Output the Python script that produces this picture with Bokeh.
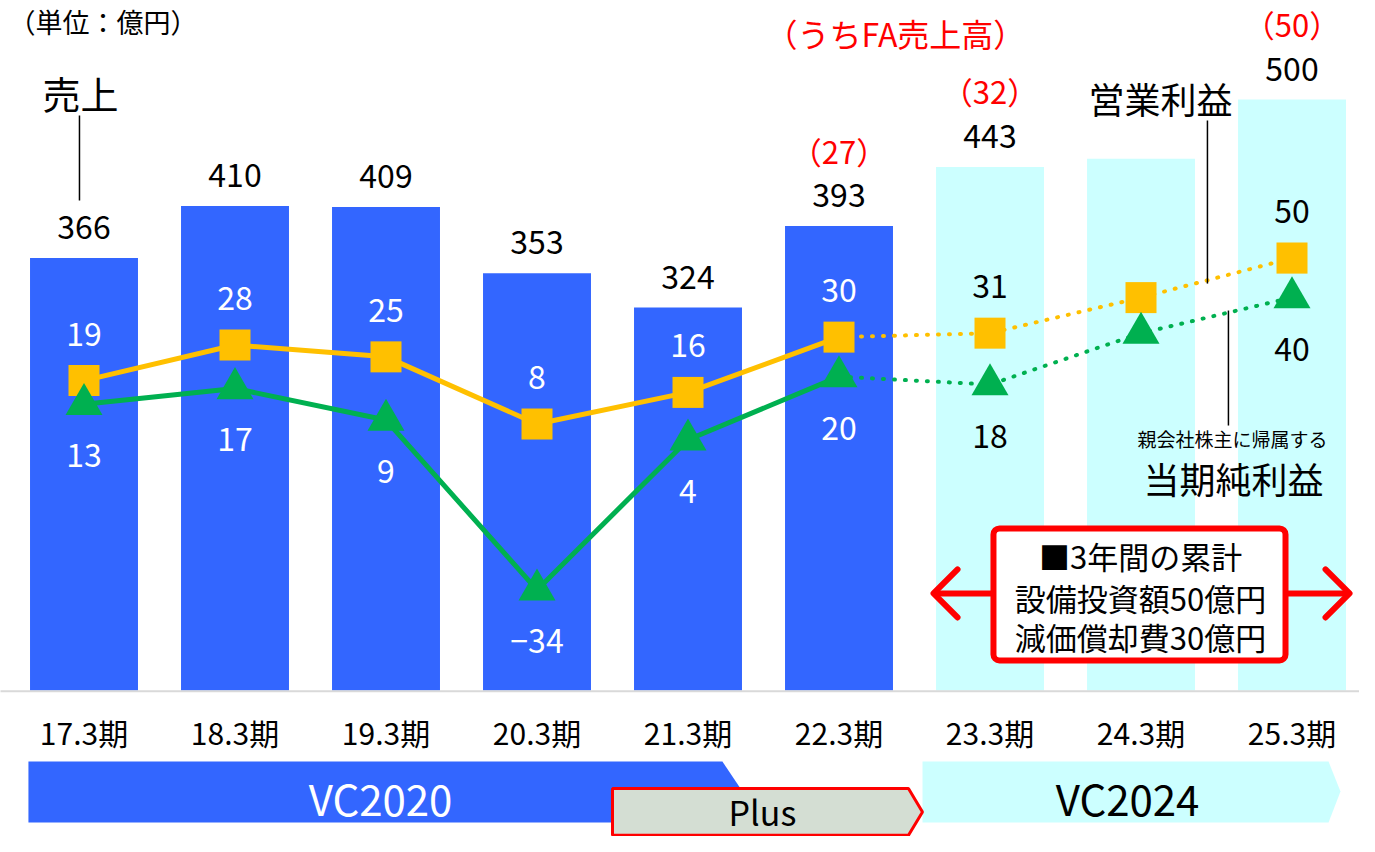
from bokeh.plotting import figure
from bokeh.models import Range1d, ColumnDataSource
from bokeh.core.properties import value
from bokeh.embed import file_html
from bokeh.resources import INLINE

# ---------------- data ----------------
periods = ["17.3期", "18.3期", "19.3期", "20.3期", "21.3期", "22.3期", "23.3期", "24.3期", "25.3期"]
sales = [366, 410, 409, 353, 324, 393, 443, 450, 500]
sales_labels = ["366", "410", "409", "353", "324", "393", "443", "", "500"]
fa_labels = ["", "", "", "", "", "（27）", "（32）", "", "（50）"]
op_profit = [19, 28, 25, 8, 16, 30, 31, 40, 50]
op_labels = ["19", "28", "25", "8", "16", "30", "31", "", "50"]
net_profit = [13, 17, 9, -34, 4, 20, 18, 31, 40]
net_labels = ["13", "17", "9", "−34", "4", "20", "18", "", "40"]
n_actual = 6  # 17.3期–22.3期 results, later periods are plan

# ---------------- styles ----------------
FONT = value("Noto Sans CJK JP")
BLUE = "#3366FF"
CYAN = "#CCFFFF"
ORANGE = "#FFC000"
GREEN = "#00B050"
RED = "#FF0000"

xs = [i + 0.5 for i in range(len(periods))]
actual = [i < n_actual for i in range(len(periods))]

src = ColumnDataSource(dict(
    x=xs, period=periods, sales=sales, sales_label=sales_labels, fa_label=fa_labels,
    op=op_profit, op_label=op_labels, net=net_profit, net_label=net_labels,
    bar_color=[BLUE if a else CYAN for a in actual],
    in_color=["white" if a else "black" for a in actual],
))

p = figure(width=1359, height=836, x_range=Range1d(-0.053, 8.947), y_range=Range1d(-123.5, 583.8),
           output_backend="svg", toolbar_location=None, min_border=0,
           x_axis_type=None, y_axis_type=None, outline_line_color=None)
p.grid.visible = False
p.extra_y_ranges = {"profit": Range1d(-96.43, 115.22)}

# bars
p.vbar(x="x", top="sales", bottom=0, width=0.715, fill_color="bar_color", line_color=None, source=src)
p.segment(x0=-0.06, y0=-0.6, x1=9, y1=-0.6, line_color="#D9D9D9", line_width=2)

# sales labels and FA labels
p.text(x="x", y="sales", text="sales_label", source=src, y_offset=-31, text_align="center",
       text_baseline="middle", text_font_size="32px", text_color="black", text_font=FONT)
p.text(x="x", y="sales", text="fa_label", source=src, y_offset=-76, text_align="center",
       text_baseline="middle", text_font_size="31px", text_color=RED, text_font=FONT)

# profit lines
na = n_actual
p.line(xs[:na], op_profit[:na], line_color=ORANGE, line_width=5, y_range_name="profit")
p.line(xs[na - 1:], op_profit[na - 1:], line_color=ORANGE, line_width=4, line_dash="1 10",
       line_cap="round", y_range_name="profit")
p.line(xs[:na], net_profit[:na], line_color=GREEN, line_width=5, y_range_name="profit")
p.line(xs[na - 1:], net_profit[na - 1:], line_color=GREEN, line_width=4, line_dash="1 10",
       line_cap="round", y_range_name="profit")
p.scatter(x="x", y="op", marker="square", size=31, fill_color=ORANGE, line_color=None,
          source=src, y_range_name="profit")
p.scatter(x="x", y="net", marker="triangle", size=37, fill_color=GREEN, line_color=None,
          source=src, y_range_name="profit")

p.text(x="x", y="op", text="op_label", source=src, y_range_name="profit", y_offset=-47,
       text_align="center", text_baseline="middle", text_font_size="32px",
       text_color="in_color", text_font=FONT)
p.text(x="x", y="net", text="net_label", source=src, y_range_name="profit", y_offset=51,
       text_align="center", text_baseline="middle", text_font_size="32px",
       text_color="in_color", text_font=FONT)

# titles / leaders
p.text(x=[0.0], y=[582.9], text=["（単位：億円）"], text_align="left", text_baseline="top",
       text_font_size="27px", text_color="black", text_font=FONT)
p.text(x=[0.477], y=[505.9], text=["売上"], text_align="center", text_baseline="middle",
       text_font_size="38px", text_color="black", text_font=FONT)
p.segment(x0=0.47, y0=414.6, x1=0.47, y1=486.5, line_color="black", line_width=1.5)
p.text(x=[5.874], y=[556.7], text=["（うちFA売上高）"], text_align="center", text_baseline="middle",
       text_font_size="32px", text_color=RED, text_font=FONT)
p.text(x=[7.629], y=[501.7], text=["営業利益"], text_align="center", text_baseline="middle",
       text_font_size="36px", text_color="black", text_font=FONT)
p.segment(x0=7.94, y0=344.3, x1=7.94, y1=482.2, line_color="black", line_width=1.5)
p.segment(x0=8.079, y0=224.2, x1=8.079, y1=321.5, line_color="black", line_width=1.5)
p.text(x=[8.106], y=[213.2], text=["親会社株主に帰属する"], text_align="center", text_baseline="middle",
       text_font_size="19px", text_color="black", text_font=FONT)
p.text(x=[8.113], y=[180.2], text=["当期純利益"], text_align="center", text_baseline="middle",
       text_font_size="36px", text_color="black", text_font=FONT)

# double arrow and cumulative box
p.segment(x0=6.13, y0=82.1, x1=8.88, y1=82.1, line_color=RED, line_width=6)
p.multi_line(xs=[[6.285, 6.126, 6.285], [8.722, 8.881, 8.722]],
             ys=[[102.4, 82.1, 61.8], [102.4, 82.1, 61.8]],
             line_color=RED, line_width=6, line_cap="round", line_join="round")
p.quad(left=6.523, right=8.457, top=137.1, bottom=25.4, fill_color="white", line_color=RED,
       line_width=6, border_radius=6)
p.text(x=[7.497, 7.497, 7.497], y=[114.2, 78.7, 45.7],
       text=["■3年間の累計", "設備投資額50億円", "減価償却費30億円"],
       text_align="center", text_baseline="middle", text_font_size="31px",
       text_color="black", text_font=FONT)

# period labels
p.text(x="x", y=-34.7, text="period", source=src, text_align="center", text_baseline="middle",
       text_font_size="30px", text_color="black", text_font=FONT)

# plan bands
p.patch(x=[0.132, 4.728, 4.861, 4.728, 0.132], y=[-60.1, -60.1, -85.4, -111.7, -111.7],
        fill_color=BLUE, line_color=None)
p.patch(x=[6.053, 8.742, 8.821, 8.742, 6.053], y=[-60.1, -60.1, -85.4, -111.7, -111.7],
        fill_color=CYAN, line_color=None)
p.patch(x=[4.0, 5.96, 6.053, 5.96, 4.0], y=[-82.9, -82.9, -102.8, -122.5, -122.5],
        fill_color="#D4DED3", line_color=RED, line_width=3)
p.text(x=[2.464], y=[-90.5], text=["VC2020"], text_align="center", text_baseline="middle",
       text_font_size="42px", text_color="white", text_font=FONT)
p.text(x=[7.411], y=[-90.5], text=["VC2024"], text_align="center", text_baseline="middle",
       text_font_size="42px", text_color="black", text_font=FONT)
p.text(x=[4.993], y=[-102.5], text=["Plus"], text_align="center", text_baseline="middle",
       text_font_size="34px", text_color="black", text_font=FONT)

open("out.html", "w").write(file_html(p, INLINE))
